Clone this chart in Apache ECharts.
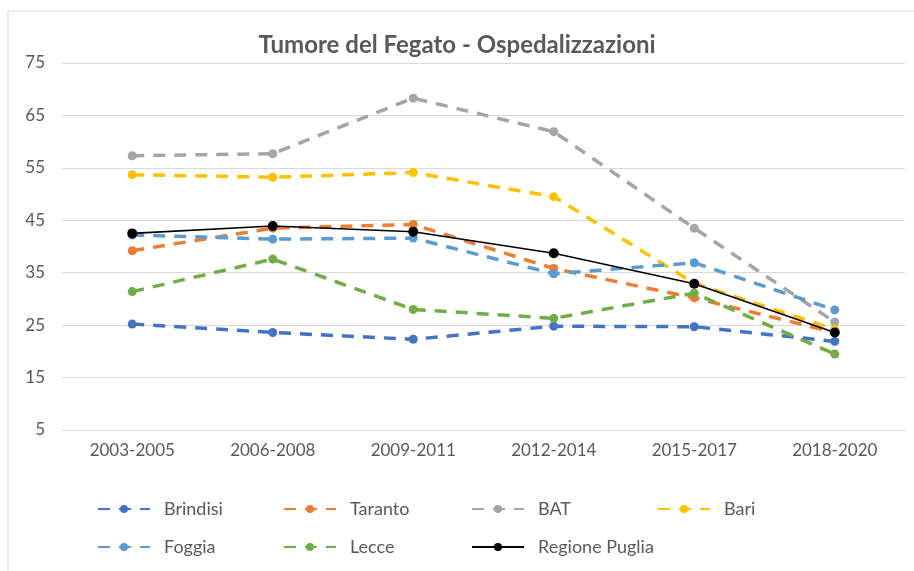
<!DOCTYPE html>
<html>
<head>
<meta charset="utf-8">
<script src="https://cdn.jsdelivr.net/npm/echarts@6/dist/echarts.min.js"></script>
<style>
  html, body { margin: 0; padding: 0; background: #fff; }
  #chart { width: 914px; height: 571px; }
</style>
</head>
<body>
<div id="chart"></div>
<script>
const periods = ['2003-2005', '2006-2008', '2009-2011', '2012-2014', '2015-2017', '2018-2020']
const yTicks = [5, 15, 25, 35, 45, 55, 65, 75]

const brindisi = [25.2, 23.6, 22.3, 24.8, 24.7, 21.9]
const taranto = [39.2, 43.5, 44.2, 35.8, 30.2, 23.6]
const bat = [57.3, 57.7, 68.3, 61.9, 43.5, 25.6]
const bari = [53.7, 53.2, 54.1, 49.5, 33.0, 24.2]
const foggia = [42.2, 41.4, 41.6, 34.8, 36.9, 27.9]
const lecce = [31.4, 37.6, 28.0, 26.3, 31.1, 19.5]
const puglia = [42.5, 43.9, 42.8, 38.7, 32.9, 23.6]

const seriesNames = ['Brindisi', 'Taranto', 'BAT', 'Bari', 'Foggia', 'Lecce', 'Regione Puglia']
const seriesData = [brindisi, taranto, bat, bari, foggia, lecce, puglia]
const seriesColors = ['#4472C4', '#ED7D31', '#A5A5A5', '#FFC000', '#5B9BD5', '#70AD47', '#000000']

const textColor = '#595959'
const font = 'Lato'

const myChart = echarts.init(document.getElementById('chart'))

const series = seriesNames.map((name, i) => {
  const isRegion = name === 'Regione Puglia'
  return {
    name: name,
    type: 'line',
    data: seriesData[i],
    symbol: 'circle',
    symbolSize: isRegion ? 10 : 9,
    color: seriesColors[i],
    lineStyle: {
      color: seriesColors[i],
      width: isRegion ? 1.6 : 3.5,
      type: isRegion ? 'solid' : [12, 9]
    },
    itemStyle: { color: seriesColors[i] },
    animation: false
  }
})

// legenda su due righe, una voce per componente (colonne fisse come in Excel)
const legendCols = [97, 283, 471, 657]
const legendRows = [500, 538]
const legends = seriesNames.map((name, i) => ({
  data: [name],
  left: legendCols[i % 4],
  top: legendRows[Math.floor(i / 4)],
  padding: 0,
  itemWidth: 52,
  itemHeight: 10,
  textStyle: {
    color: textColor,
    fontFamily: font,
    fontSize: 18,
    padding: [0, 0, 0, 9]
  }
}))

const option = {
  backgroundColor: '#fff',
  title: {
    text: 'Tumore del Fegato - Ospedalizzazioni',
    left: 'center',
    top: 28,
    textStyle: {
      color: textColor,
      fontFamily: font,
      fontWeight: 'bold',
      fontSize: 24
    }
  },
  legend: legends,
  grid: {
    left: 62,
    right: 9,
    top: 63,
    bottom: 141
  },
  xAxis: {
    type: 'category',
    data: periods,
    boundaryGap: true,
    axisLine: { show: true, lineStyle: { color: '#D9D9D9', width: 1 } },
    axisTick: { show: false },
    axisLabel: {
      color: textColor,
      fontFamily: font,
      fontSize: 17,
      margin: 12
    }
  },
  yAxis: {
    type: 'value',
    min: yTicks[0],
    max: yTicks[yTicks.length - 1],
    interval: 10,
    axisLine: { show: false },
    axisTick: { show: false },
    splitLine: { lineStyle: { color: '#D9D9D9', width: 1 } },
    axisLabel: {
      color: textColor,
      fontFamily: font,
      fontSize: 17,
      margin: 17
    }
  },
  graphic: [
    {
      type: 'polyline',
      shape: { points: [[8, 571], [8, 11], [914, 11]] },
      style: { stroke: '#D9D9D9', lineWidth: 1, fill: null },
      silent: true
    }
  ],
  series: series
}

// 绘制图表
myChart.setOption(option)
</script>
</body>
</html>
